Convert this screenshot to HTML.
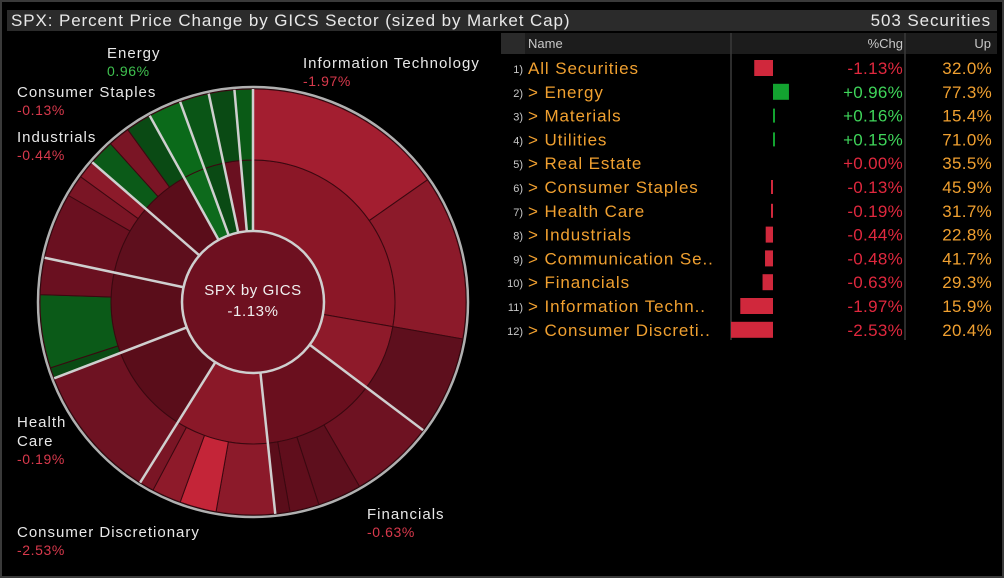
<!DOCTYPE html>
<html><head><meta charset="utf-8">
<style>
html,body{margin:0;padding:0;background:#000;}
body{width:1004px;height:578px;overflow:hidden;position:relative;font-family:"Liberation Sans",sans-serif;}
#frame{position:absolute;left:0;top:0;width:1000px;height:574px;border:2px solid #3a3a3a;background:#000;}
#titlebar{position:absolute;left:7px;top:10px;width:990px;height:21px;background:#2b2b2b;color:#e8e8e8;font-size:17px;letter-spacing:0.9px;line-height:21px;}
#titlebar .l{position:absolute;left:4px;}
#titlebar .r{position:absolute;right:6px;}
svg{position:absolute;left:0;top:0;}
</style></head><body>
<div id="frame"></div>
<div id="titlebar"><span class="l">SPX: Percent Price Change by GICS Sector (sized by Market Cap)</span><span class="r">503 Securities</span></div>
<svg id="chart" width="1004" height="578"></svg>
<script>
// ---- Sunburst data ----
const sectorNames = ["Information Technology","Financials","Consumer Discretionary","Health Care","Communication Services","Industrials","Consumer Staples","Energy","Materials","Utilities","Real Estate"];
const sectorSpans = [127,47,38,37,33,29,20,9,8,7,5];
const middleWeights = [[100,27],[1],[1],[1],[1],[1],[1],[1],[1],[1],[1]];
const middleColors = [["#8b1727","#8e1a2a"],["#6a0f1e"],["#8a1828"],["#5a0d1a"],["#5a0d1a"],["#5e0f1d"],["#5a0d1a"],["#0d6a1c"],["#0a4a14"],["#6a1020"],["#0a4a14"]];
const outerWeights = [[55,45,27],[23,12,8,4],[16,10,8,4],[1],[3,20,10],[18,6,5],[7,6,7],[1],[1],[1],[1]];
const outerColors = [["#a31e30","#8c1a2a","#5e0f1d"],["#6e1222","#5e0f1d","#600e1c","#5a0d1a"],["#8c1a2a","#c42538","#8e1a2a","#7a1525"],["#6e1222"],["#0a4a14","#0b5a18","#6a1020"],["#6a1020","#7a1525","#8c1a2a"],["#0b5a18","#7a1525","#0a4a14"],["#0b6a1a"],["#0a5516"],["#0a4a14"],["#0a5a16"]];
// ---- Table data ----
const rowNames = ["All Securities","> Energy","> Materials","> Utilities","> Real Estate","> Consumer Staples","> Health Care","> Industrials","> Communication Se..","> Financials","> Information Techn..","> Consumer Discreti.."];
const rowChg = [-1.13,0.96,0.16,0.15,0.00,-0.13,-0.19,-0.44,-0.48,-0.63,-1.97,-2.53];
const rowChgLabels = ["-1.13%","+0.96%","+0.16%","+0.15%","+0.00%","-0.13%","-0.19%","-0.44%","-0.48%","-0.63%","-1.97%","-2.53%"];
const rowUp = ["32.0%","77.3%","15.4%","71.0%","35.5%","45.9%","31.7%","22.8%","41.7%","29.3%","15.9%","20.4%"];

const NS="http://www.w3.org/2000/svg";
const svg=document.getElementById('chart');
function mk(tag,attrs,parent){const e=document.createElementNS(NS,tag);for(const k in attrs)e.setAttribute(k,attrs[k]);(parent||svg).appendChild(e);return e;}
const cx=253,cy=302,r0=71,r1=142,r2=213;
function pt(a,r){const t=a*Math.PI/180;return [cx+r*Math.sin(t),cy-r*Math.cos(t)];}
function arc(a0,a1,ri,ro){
  const p1=pt(a0,ro),p2=pt(a1,ro),p3=pt(a1,ri),p4=pt(a0,ri);const lg=(a1-a0)>180?1:0;
  return `M${p1}A${ro},${ro} 0 ${lg} 1 ${p2}L${p3}A${ri},${ri} 0 ${lg} 0 ${p4}Z`;
}
function drawRing(weights,colors,a0,span,ri,ro,name){
  const tot=weights.reduce((s,v)=>s+v,0);let a=a0;
  weights.forEach((w,j)=>{const s=span*w/tot;
    const p=mk('path',{d:arc(a,a+s,ri,ro),fill:colors[j],stroke:'#3a0810','stroke-width':1});
    
    
    a+=s;});
}
let ang=0;const starts=[];
sectorSpans.forEach((sp,i)=>{
  starts.push(ang);
  drawRing(middleWeights[i],middleColors[i],ang,sp,r0,r1,'middle-ring');
  drawRing(outerWeights[i],outerColors[i],ang,sp,r1,r2,'outer-ring');
  ang+=sp;
});
starts.forEach(a=>{const p=pt(a,r0),q=pt(a,r2);
  const l=mk('line',{x1:p[0],y1:p[1],x2:q[0],y2:q[1],stroke:'#cfcfcf','stroke-width':2.5});
  
  });
const oc=mk('circle',{cx:cx,cy:cy,r:r2+2,fill:'none',stroke:'#b0b0b0','stroke-width':2.5});


const ic=mk('circle',{cx:cx,cy:cy,r:r0,fill:'#6e1020',stroke:'#cfcfcf','stroke-width':2.5});


const t1=mk('text',{x:cx,y:cy-7,fill:'#f0f0f0','font-size':15,'letter-spacing':0.6,'text-anchor':'middle'});t1.textContent='SPX by GICS';


const t2=mk('text',{x:cx,y:cy+14,fill:'#f0f0f0','font-size':15,'letter-spacing':0.6,'text-anchor':'middle'});t2.textContent='-1.13%';



// sector labels
const labelTexts=[["Energy","0.96%",107,58,'#3fc14f'],["Consumer Staples","-0.13%",17,97,'#d8394c'],["Industrials","-0.44%",17,142,'#d8394c'],["Information Technology","-1.97%",303,68,'#d8394c'],["Health","",17,427,'#d8394c'],["Care","-0.19%",17,446,'#d8394c'],["Financials","-0.63%",367,519,'#d8394c'],["Consumer Discretionary","-2.53%",17,537,'#d8394c']];
labelTexts.forEach(l=>{
  const a=mk('text',{x:l[2],y:l[3],fill:'#e8e8e8','font-size':15,'letter-spacing':1});a.textContent=l[0];
  
  
  if(l[1]){const b=mk('text',{x:l[2],y:l[3]+18,fill:l[4],'font-size':14,'letter-spacing':0.6});b.textContent=l[1];
  
  }
});

// ---- table ----
mk('rect',{x:501,y:33,width:496,height:21,fill:'#1c1c1c'});
mk('rect',{x:501,y:33,width:24,height:21,fill:'#2a2a2a'});
const hd=[["Name",528,'start'],["%Chg",903,'end'],["Up",991,'end']];
hd.forEach(h=>{const t=mk('text',{x:h[1],y:48,fill:'#c8c8c8','font-size':13,'text-anchor':h[2]});t.textContent=h[0];
  
  });
[731,905].forEach(x=>{mk('line',{x1:x,y1:33,x2:x,y2:340,stroke:'#3a3a3a','stroke-width':1.5});});
const zeroX=773,pxPer=16.6,rowY0=68,rowH=23.8;
function yRow(i){return rowY0+i*rowH;}
function xVal(v){return zeroX+v*pxPer;}
rowNames.forEach((n,i)=>{
  const y=yRow(i);
  const num=mk('text',{x:523,y:y+5,fill:'#c8c8c8','font-size':11,'text-anchor':'end'});num.textContent=(i+1)+')';
  
  
  const nm=mk('text',{x:528,y:y+6,fill:'#f0a030','font-size':17,'letter-spacing':0.9});nm.textContent=n;
  
  
  const v=rowChg[i];const x0=Math.min(xVal(0),xVal(v)),w=Math.abs(xVal(v)-xVal(0));
  if(w>0){const big=i===0||i===1||i>=7;const h=big?16:14;
    const bw=big?w:2;
    const bx=v<0?(big?x0:xVal(0)-2):xVal(0);
    const b=mk('rect',{x:bx,y:y-h/2,width:bw,height:h,fill:v>=0?'#13a330':'#d0283c'});
    
    }
  const c=mk('text',{x:903,y:y+6,fill:v>0?'#3fd55a':'#e0283e','font-size':17,'letter-spacing':0.3,'text-anchor':'end'});c.textContent=rowChgLabels[i];
  
  
  const u=mk('text',{x:992,y:y+6,fill:'#f0a030','font-size':17,'letter-spacing':0.3,'text-anchor':'end'});u.textContent=rowUp[i];
  
  
});
</script>
</body></html>
